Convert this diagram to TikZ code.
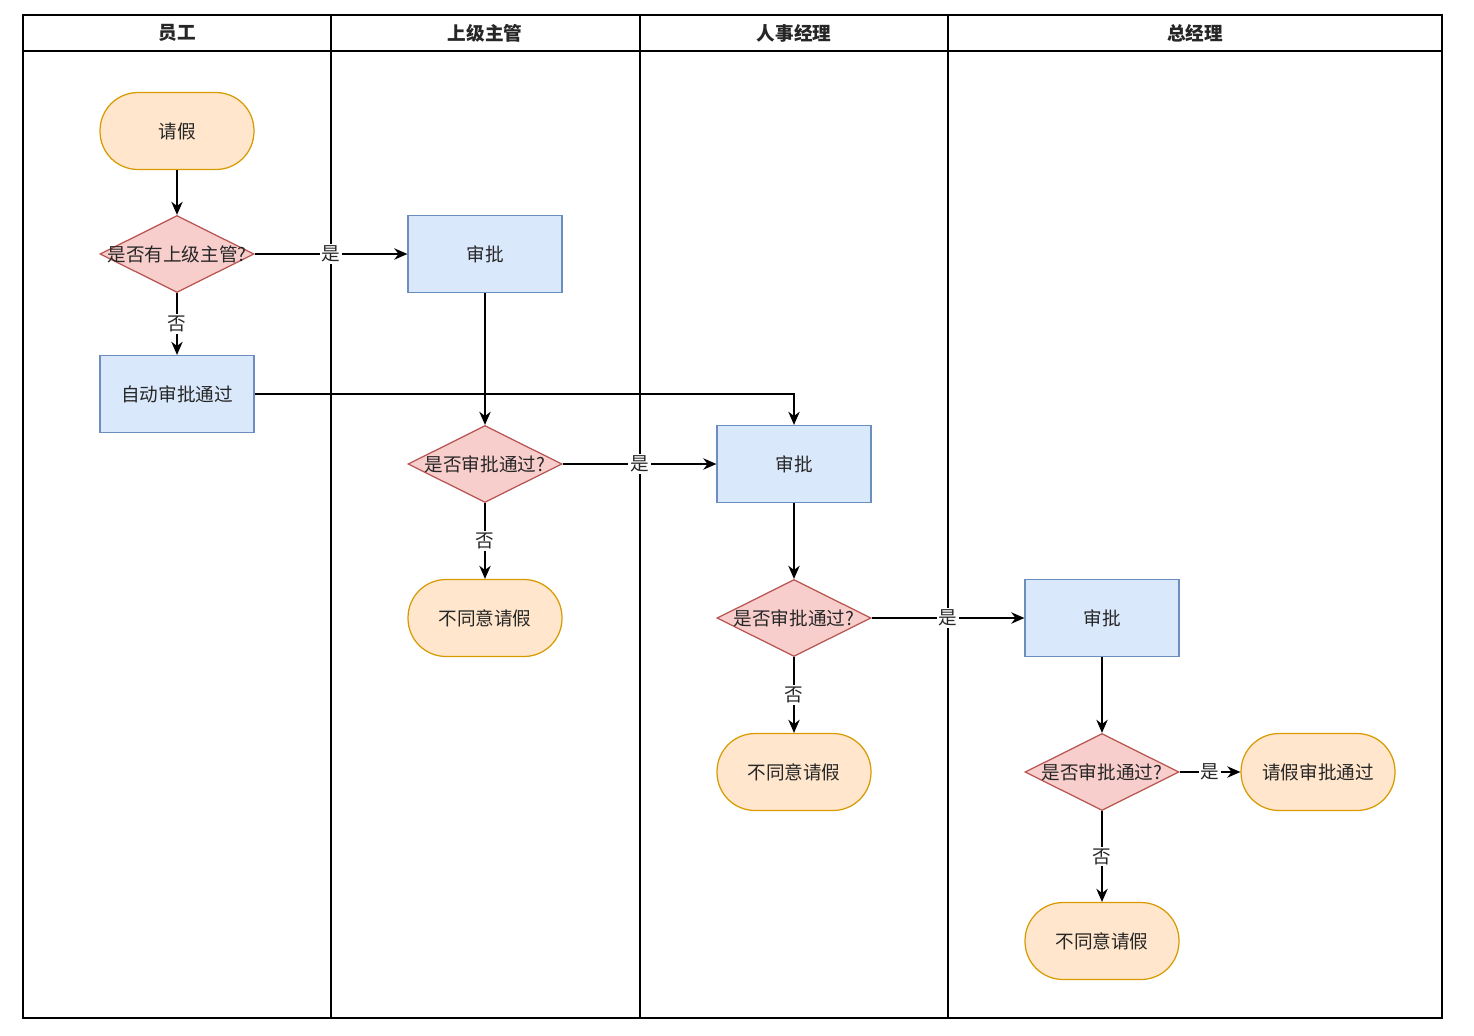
\documentclass[tikz,border=0pt]{standalone}
\usepackage{fontspec}
\setmainfont{Noto Sans CJK SC}
\usetikzlibrary{shapes.geometric,arrows.meta}
\definecolor{tfill}{RGB}{255,230,204}
\definecolor{tdraw}{RGB}{215,155,0}
\definecolor{pfill}{RGB}{218,232,252}
\definecolor{pdraw}{RGB}{108,142,191}
\definecolor{dfill}{RGB}{248,206,204}
\definecolor{ddraw}{RGB}{184,84,80}
\tikzset{every node/.style={font=\fontsize{10.6}{12}\selectfont,text=black!85}}
\tikzset{term/.style={draw=tdraw,fill=tfill,line width=0.7pt,rounded corners=0.76cm,minimum width=3.08cm,minimum height=1.54cm}}
\tikzset{proc/.style={draw=pdraw,fill=pfill,line width=0.7pt,minimum width=3.08cm,minimum height=1.54cm}}
\tikzset{decide/.style={diamond,draw=ddraw,fill=dfill,line width=0.7pt,inner sep=0pt,aspect=2,minimum width=3.08cm,minimum height=1.54cm}}
\tikzset{edge/.style={-{Stealth[length=7.5pt,width=6.5pt]},line width=0.75pt}}
\tikzset{lane/.style={line width=0.85pt}}
\tikzset{lbl/.style={fill=white,inner sep=1pt}}
\tikzset{head/.style={font=\fontsize{10.6}{12}\selectfont\bfseries}}

\begin{document}
\begin{tikzpicture}[x=0.02cm,y=-0.02cm]
\useasboundingbox (0,0) rectangle (1474,1035);
% swimlanes
\draw [lane] (23,15) rectangle (1442,1018);
\draw [lane] (23,51) -- (1442,51);
\draw [lane] (331,15) -- (331,1018);
\draw [lane] (640,15) -- (640,1018);
\draw [lane] (948,15) -- (948,1018);
\node [head] (h1) at (177,33) {员工};
\node [head] (h2) at (485,33) {上级主管};
\node [head] (h3) at (794,33) {人事经理};
\node [head] (h4) at (1195,33) {总经理};

% employee
\node [term] (start) at (177,131) {请假};
\node [decide] (d1) at (177,254) {\makebox[0pt]{是否有上级主管?}};
\node [proc] (auto) at (177,394) {自动审批通过};

% supervisor
\node [proc] (a2) at (485,254) {审批};
\node [decide] (d2) at (485,464) {\makebox[0pt]{是否审批通过?}};
\node [term] (n2) at (485,618) {不同意请假};

% hr manager
\node [proc] (a3) at (794,464) {审批};
\node [decide] (d3) at (794,618) {\makebox[0pt]{是否审批通过?}};
\node [term] (n3) at (794,772) {不同意请假};

% general manager
\node [proc] (a4) at (1102,618) {审批};
\node [decide] (d4) at (1102,772) {\makebox[0pt]{是否审批通过?}};
\node [term] (ok) at (1318,772) {请假审批通过};
\node [term] (n4) at (1102,941) {不同意请假};

\draw [edge] (start) -- (d1);
\draw [edge] (d1) -- node [lbl] {是} (a2);
\draw [edge] (d1) -- node [lbl] {否} (auto);
\draw [edge] (a2) -- (d2);
\draw [edge] (auto) -| (a3);
\draw [edge] (d2) -- node [lbl] {是} (a3);
\draw [edge] (d2) -- node [lbl] {否} (n2);
\draw [edge] (a3) -- (d3);
\draw [edge] (d3) -- node [lbl] {是} (a4);
\draw [edge] (d3) -- node [lbl] {否} (n3);
\draw [edge] (a4) -- (d4);
\draw [edge] (d4) -- node [lbl] {是} (ok);
\draw [edge] (d4) -- node [lbl] {否} (n4);
\end{tikzpicture}
\end{document}
